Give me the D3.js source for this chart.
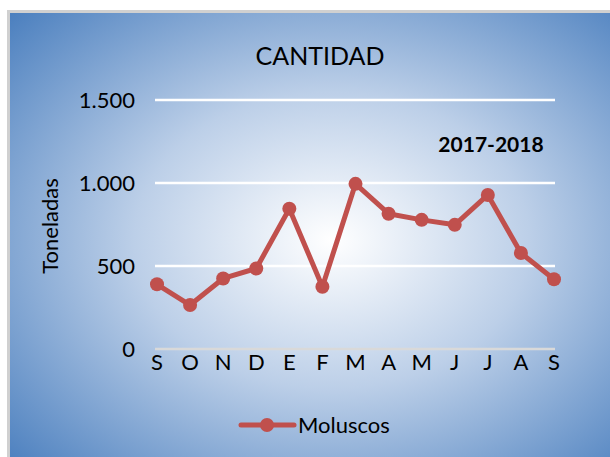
<!DOCTYPE html>
<html>
<head>
<meta charset="utf-8">
<script src="https://cdn.jsdelivr.net/npm/d3@7"></script>
<style>
  body { margin: 0; background: #fff; }
  svg { display: block; font-family: Lato, "Open Sans", sans-serif; }
</style>
</head>
<body>
<div id="chart"></div>
<script>
// Chart data
const months = ["S", "O", "N", "D", "E", "F", "M", "A", "M", "J", "J", "A", "S"];
const moluscos = [390, 265, 425, 485, 845, 375, 995, 815, 778, 748, 928, 578, 420];
const yTicks = [0, 500, 1000, 1500];

const width = 610;
const height = 457;

const svg = d3.select("#chart")
    .append("svg")
    .attr("width", width)
    .attr("height", height);

// Background gradient (white in the middle, blue at the edges)
const defs = svg.append("defs");
const grad = defs.append("radialGradient")
    .attr("id", "bg")
    .attr("cx", "0.53").attr("cy", "0.5")
    .attr("r", "0.72");
grad.append("stop").attr("offset", "0").attr("stop-color", "#ffffff");
grad.append("stop").attr("offset", "0.45").attr("stop-color", "#bccfe8");
grad.append("stop").attr("offset", "1").attr("stop-color", "#4c80bf");

// Outer frame
svg.append("rect")
    .attr("x", 8.5).attr("y", 11.5)
    .attr("width", width).attr("height", height)
    .attr("fill", "url(#bg)")
    .attr("stroke", "#d0d0d0")
    .attr("stroke-width", 3);

// Scales
const x = d3.scalePoint()
    .domain(d3.range(months.length))
    .range([157, 554]);

const y = d3.scaleLinear()
    .domain([0, 1500])
    .range([349, 100]);

const fmt = d => d3.format(",")(d).replace(/,/g, ".");

// Gridlines
svg.append("g")
    .selectAll("line")
    .data(yTicks)
    .enter()
    .append("line")
    .attr("x1", 155).attr("x2", 555)
    .attr("y1", d => y(d)).attr("y2", d => y(d))
    .attr("stroke", d => d === 0 ? "#d9d9d9" : "#ffffff")
    .attr("stroke-width", 2.5);

// Y tick labels
svg.append("g")
    .selectAll("text")
    .data(yTicks)
    .enter()
    .append("text")
    .attr("x", 135)
    .attr("y", d => y(d))
    .attr("dy", "0.36em")
    .attr("text-anchor", "end")
    .style("font-size", "22px")
    .text(fmt);

// X labels
svg.append("g")
    .selectAll("text")
    .data(months)
    .enter()
    .append("text")
    .attr("x", (d, i) => x(i))
    .attr("y", 370)
    .attr("text-anchor", "middle")
    .style("font-size", "22px")
    .text(d => d);

// Title
svg.append("text")
    .attr("x", 320).attr("y", 65)
    .attr("text-anchor", "middle")
    .style("font-size", "25px")
    .text("CANTIDAD");

// Period label
svg.append("text")
    .attr("x", 491).attr("y", 152)
    .attr("text-anchor", "middle")
    .style("font-size", "21px")
    .style("font-weight", "bold")
    .text("2017-2018");

// Y axis title
svg.append("text")
    .attr("transform", "translate(58,226) rotate(-90)")
    .attr("text-anchor", "middle")
    .style("font-size", "22px")
    .text("Toneladas");

// Line
const line = d3.line()
    .x((d, i) => x(i))
    .y(d => y(d));

svg.append("path")
    .datum(moluscos)
    .attr("fill", "none")
    .attr("stroke", "#c0504d")
    .attr("stroke-width", 5)
    .attr("stroke-linejoin", "round")
    .attr("d", line);

svg.append("g")
    .selectAll("circle")
    .data(moluscos)
    .enter()
    .append("circle")
    .attr("cx", (d, i) => x(i))
    .attr("cy", d => y(d))
    .attr("r", 7)
    .attr("fill", "#c0504d");

// Legend
const legend = svg.append("g");
legend.append("line")
    .attr("x1", 241).attr("x2", 294)
    .attr("y1", 425).attr("y2", 425)
    .attr("stroke", "#c0504d")
    .attr("stroke-width", 5)
    .attr("stroke-linecap", "round");
legend.append("circle")
    .attr("cx", 267).attr("cy", 425)
    .attr("r", 7)
    .attr("fill", "#c0504d");
legend.append("text")
    .attr("x", 298).attr("y", 433)
    .style("font-size", "22px")
    .text("Moluscos");
</script>
</body>
</html>
